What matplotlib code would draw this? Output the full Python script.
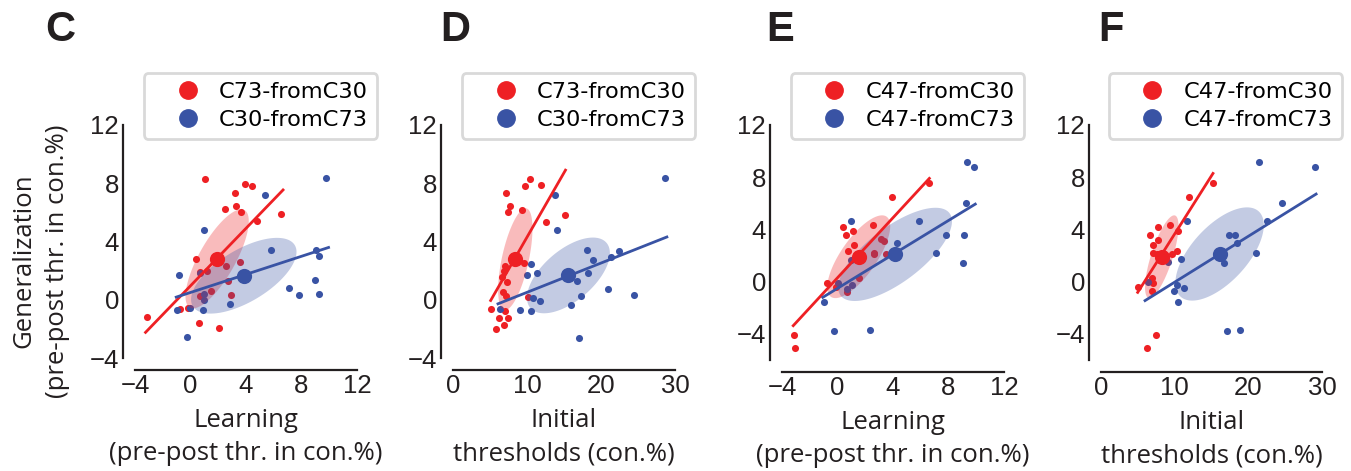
import numpy as np
import matplotlib
matplotlib.use('Agg')
import matplotlib.pyplot as plt
from matplotlib.lines import Line2D

RED = '#ee2024'
BLUE = '#3953a4'

# panel C: learning vs generalization (C73/C30 pair)
c_red_x = [-3.12, 1.08, 3.19, 3.9, 4.44, 2.49, 3.29, 3.62, 6.55, 4.77, 0.41, 2.57, 3.55,
           0.65, 1.2, 2.69, 1.49, 0.72, 2.95, -0.79, -0.17, 0.62, 2.04]
c_red_y = [-1.19, 8.3, 7.36, 7.93, 7.84, 6.22, 6.47, 6.01, 5.87, 5.39, 2.81, 2.35, 2.58,
           1.9, 2.0, 1.26, 0.59, 0.23, 0.34, -0.64, -0.57, -1.6, -1.97]
c_blue_x = [9.78, 5.4, 1.0, 5.8, 9.06, 9.28, -0.82, 0.7, 7.1, 8.99, 7.82, 9.28, 0.94, 0.98,
            2.83, -1.0, -0.07, 0.91, -0.24]
c_blue_y = [8.34, 7.18, 4.82, 3.4, 3.43, 2.97, 1.71, 1.85, 0.8, 1.33, 0.34, 0.37, 0.39, 0.0,
            -0.3, -0.73, -0.57, -0.69, -2.56]

# panel D: initial thresholds vs generalization (C73/C30 pair)
d_red_x = [7.2, 9.77, 10.45, 11.94, 7.75, 7.43, 9.37, 12.52, 15.14, 9.55, 6.98, 6.85, 6.58,
           7.25, 6.76, 7.12, 10.2, 5.18, 6.98, 6.22, 7.43, 6.9, 5.86]
d_red_y = [7.34, 7.82, 8.28, 7.91, 6.42, 6.0, 6.19, 5.37, 5.85, 2.55, 2.32, 1.95, 1.56,
           1.22, 0.53, 0.28, 0.18, -0.62, -0.78, -1.22, -1.22, -1.7, -2.02]
d_blue_x = [28.7, 13.8, 14.1, 18.1, 22.4, 21.3, 18.9, 10.6, 11.3, 18.2, 10.0, 16.7, 20.9,
            24.4, 17.3, 10.8, 11.7, 16.0, 6.3, 9.1, 10.5, 17.0]
d_blue_y = [8.33, 7.16, 4.82, 3.42, 3.37, 2.94, 2.71, 2.48, 1.86, 1.81, 1.70, 1.31, 0.76,
            0.30, 0.28, 0.09, -0.11, -0.34, -0.64, -0.73, -0.80, -2.64]

# panel E: learning vs generalization (C47)
e_red_x = [6.6, 3.93, 2.54, 0.41, 1.13, 0.62, 3.17, 3.36, 1.22, 0.77, 2.66, 2.61, 3.53,
           1.53, -0.79, -0.14, 0.65, -3.14, -3.05]
e_red_y = [7.53, 6.5, 4.36, 4.16, 3.88, 3.57, 3.24, 3.14, 2.81, 2.37, 2.22, 2.09, 2.09,
           0.28, -0.13, -0.38, -0.77, -4.1, -5.1]
e_blue_x = [9.33, 9.83, 9.28, 5.85, 0.98, 7.84, 9.14, 4.29, 7.12, 0.94, 9.04, 0.0, 1.06,
            0.72, -0.98, -0.22, 2.33]
e_blue_y = [9.13, 8.78, 6.0, 4.64, 4.64, 3.57, 3.57, 2.98, 2.22, 1.66, 1.4, -0.08, -0.28,
            -0.59, -1.56, -3.75, -3.67]

# panel F: initial thresholds vs generalization (C47)
f_red_x = [15.2, 12.0, 10.4, 9.38, 7.7, 6.66, 7.79, 7.02, 7.12, 10.3, 9.6, 7.57, 6.89,
           7.02, 5.07, 6.89, 7.48, 6.2]
f_red_y = [7.53, 6.5, 3.9, 4.36, 4.16, 3.57, 3.19, 2.81, 2.17, 2.37, 2.12, 2.12, 0.31,
           -0.13, -0.43, -0.74, -4.1, -5.1]
f_blue_x = [21.4, 29.0, 24.6, 11.7, 22.6, 17.4, 18.2, 18.4, 21.0, 16.7, 10.9, 9.15, 6.39,
            10.3, 11.3, 9.97, 10.5, 17.1, 18.9]
f_blue_y = [9.13, 8.78, 6.0, 4.62, 4.64, 3.55, 3.55, 2.98, 2.22, 1.4, 1.71, 1.53, -0.05,
            -0.28, -0.48, -0.74, -1.58, -3.75, -3.67]

# group means (x, y)
c_means = [(1.92, 2.81), (3.84, 1.65)]
d_means = [(8.42, 2.78), (15.6, 1.67)]
e_means = [(1.53, 1.91), (4.15, 2.09)]
f_means = [(8.25, 1.91), (16.1, 2.12)]

# regression line end points ([x0, x1], [y0, y1])
c_fits = [([-3.24, 6.67], [-2.24, 7.54]), ([-1.03, 9.95], [0.18, 3.59])]
d_fits = [([5.09, 15.2], [-0.05, 8.9]), ([6.08, 28.9], [-0.28, 4.31])]
e_fits = [([-3.19, 6.62], [-3.37, 7.91]), ([-1.06, 9.93], [-1.2, 5.94])]
f_fits = [([4.98, 15.2], [-0.82, 8.29]), ([5.98, 29.2], [-1.45, 6.71])]

# covariance ellipses (sd_x, sd_y, rho)
c_ells = [(2.28, 3.4, 0.76), (3.8, 2.6, 0.63)]
d_ells = [(2.32, 3.5, 0.6), (5.6, 2.6, 0.59)]
e_ells = [(2.27, 3.17, 0.74), (4.1, 3.57, 0.71)]
f_ells = [(2.27, 3.17, 0.74), (6.0, 3.57, 0.62)]

c_labels = ['C73-fromC30', 'C30-fromC73']
e_labels = ['C47-fromC30', 'C47-fromC73']

learn_ticks = [-4, 0, 4, 8, 12]
init_ticks = [0, 10, 20, 30]
gen_ticks = [-4, 0, 4, 8, 12]

W, H = 1351, 471
fig = plt.figure(figsize=(W / 100, H / 100), dpi=100)

TICK_FONT = 'Liberation Sans'
LABEL_FONT = 'Open Sans'
INK = '#231f20'


def ellipse_xy(cx, cy, sx, sy, rho):
    t = np.linspace(0, 2 * np.pi, 200)
    x = cx + sx * np.cos(t)
    y = cy + sy * (rho * np.cos(t) + np.sqrt(1 - rho ** 2) * np.sin(t))
    return x, y


panels = [
    ('C', (135, 357, 125, 358), (c_red_x, c_red_y, c_blue_x, c_blue_y), c_means, c_fits, c_ells,
     c_labels, (-4, 12), learn_ticks, (-4, 12), 'Learning\n(pre-post thr. in con.%)', 45),
    ('D', (453, 675, 125, 358), (d_red_x, d_red_y, d_blue_x, d_blue_y), d_means, d_fits, d_ells,
     c_labels, (0, 30), init_ticks, (-4, 12), 'Initial\nthresholds (con.%)', 440),
    ('E', (782, 1004, 125, 360), (e_red_x, e_red_y, e_blue_x, e_blue_y), e_means, e_fits, e_ells,
     e_labels, (-4, 12), learn_ticks, (-6, 12), 'Learning\n(pre-post thr. in con.%)', 766),
    ('F', (1101, 1322, 125, 360), (f_red_x, f_red_y, f_blue_x, f_blue_y), f_means, f_fits, f_ells,
     e_labels, (0, 30), init_ticks, (-6, 12), 'Initial\nthresholds (con.%)', 1098),
]

for letter, box, pts, means, fits, ells, labels, xlim, xticks, ylim, xlabel, lx in panels:
    l, r, t, b = box
    ax = fig.add_axes([l / W, 1 - b / H, (r - l) / W, (b - t) / H])
    rx, ry, bx, by = pts
    ax.scatter(rx, ry, s=26, color=RED, lw=0, zorder=2)
    ax.scatter(bx, by, s=26, color=BLUE, lw=0, zorder=2)
    for (m, e, col) in zip(means, ells, [RED, BLUE]):
        ex, ey = ellipse_xy(m[0], m[1], *e)
        ax.fill(ex, ey, color=col, alpha=0.3, lw=0, zorder=3)
    for (fx, fy), col in zip(fits, [RED, BLUE]):
        ax.plot(fx, fy, color=col, lw=2, zorder=4)
    for m, col in zip(means, [RED, BLUE]):
        ax.scatter([m[0]], [m[1]], s=120, color=col, lw=0, zorder=5)

    ax.set_xlim(*xlim)
    ax.set_ylim(*ylim)
    ax.set_xticks(xticks)
    ax.set_yticks(gen_ticks)
    for s in ['top', 'right']:
        ax.spines[s].set_visible(False)
    for s in ['left', 'bottom']:
        ax.spines[s].set_position(('outward', 8.5))
        ax.spines[s].set_linewidth(1.6)
        ax.spines[s].set_color(INK)
    ax.tick_params(length=0, pad=3, labelsize=18.5, colors=INK)
    for lab in ax.get_xticklabels() + ax.get_yticklabels():
        lab.set_family(TICK_FONT)
    ax.set_xlabel(xlabel, family=LABEL_FONT, fontsize=18.5, color=INK,
                  labelpad=7, linespacing=1.45)

    handles = [Line2D([], [], ls='', marker='o', ms=12.5, color=c) for c in [RED, BLUE]]
    ax.legend(handles, labels, loc='upper right', bbox_to_anchor=((r + 20) / W, 1 - 73 / H),
              bbox_transform=fig.transFigure, borderaxespad=0, fontsize=16.2,
              handlelength=3.1, handletextpad=-0.15, labelspacing=0.35, borderpad=0.4,
              frameon=True, fancybox=True, edgecolor='#d9d9d9', framealpha=1)
    ax.get_legend().get_frame().set_linewidth(2)

    fig.text(lx / W, 1 - 10 / H, letter, fontsize=30, fontweight='bold',
             family='Liberation Sans', va='top', ha='left', color=INK)

fig.text(41 / W, 1 - 261 / H, 'Generalization\n(pre-post thr. in con.%)', rotation=90,
         ha='center', va='center', family=LABEL_FONT, fontsize=18.5, color=INK,
         linespacing=1.45)

fig.savefig('out.png', dpi=100)
